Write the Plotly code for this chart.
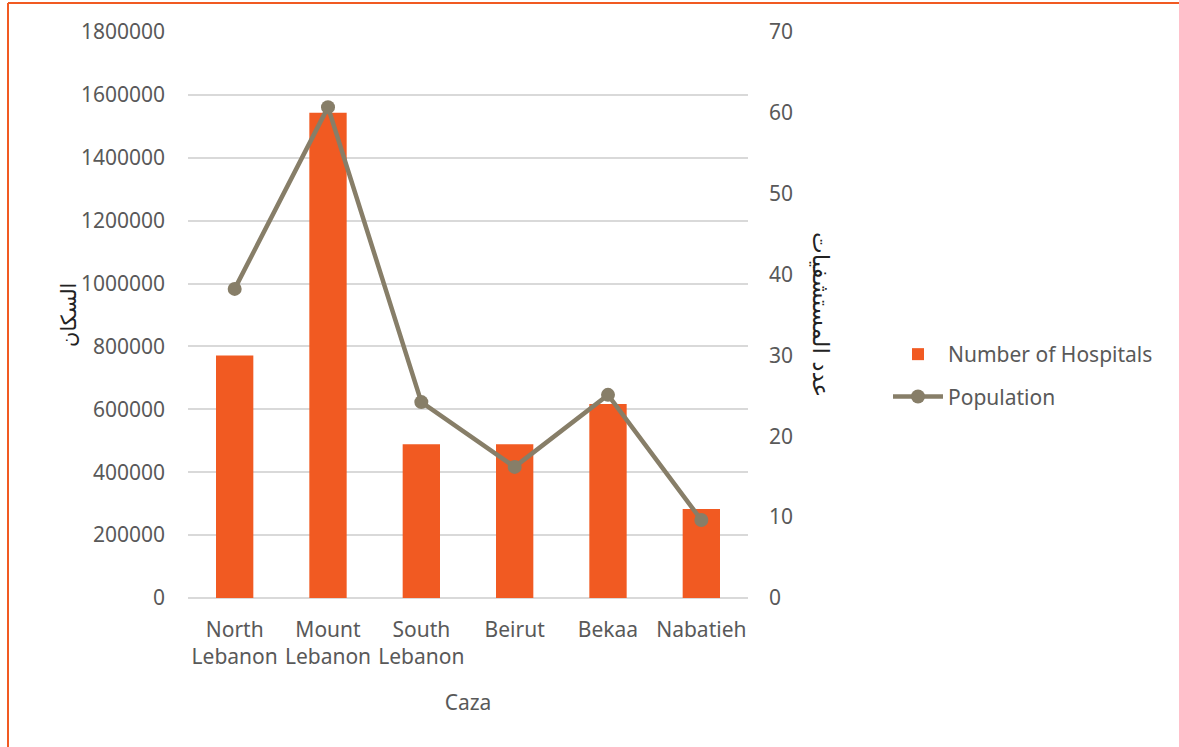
import plotly.graph_objects as go

categories = ["North<br>Lebanon", "Mount<br>Lebanon", "South<br>Lebanon", "Beirut", "Bekaa", "Nabatieh"]
hospitals = [30, 60, 19, 19, 24, 11]
population = [983000, 1561000, 623000, 417000, 646000, 248000]
left_ticks = [0, 200000, 400000, 600000, 800000, 1000000, 1200000, 1400000, 1600000, 1800000]
right_ticks = [0, 10, 20, 30, 40, 50, 60, 70]

W, H = 1179, 747
L, R, T, B = 188, 748, 32, 598
FONT = "Noto Sans, DejaVu Sans, sans-serif"
GRAY = "#595959"
ORANGE = "#F15A22"
LINEC = "#877E68"
FS = 21

def px(x):
    return (x - L) / (R - L)

def py(y):
    return (B - y) / (B - T)

fig = go.Figure()
fig.add_trace(go.Bar(
    x=categories, y=hospitals, name="Number of Hospitals", yaxis="y",
    marker=dict(color=ORANGE, line=dict(width=0)), legendgroup="a",
))
fig.add_trace(go.Scatter(
    x=categories, y=population, name="Population", yaxis="y2",
    mode="lines+markers", line=dict(color=LINEC, width=4.5),
    marker=dict(color=LINEC, size=14), legendgroup="b",
))

fig.update_layout(
    width=W, height=H,
    margin=dict(l=L, r=W - R, t=T, b=H - B),
    paper_bgcolor="white", plot_bgcolor="white",
    font=dict(family=FONT, size=FS, color=GRAY),
    bargap=0.6,
    showlegend=True,
    legend=dict(x=px(888), y=py(334), xanchor="left", yanchor="top",
                font=dict(size=FS, color=GRAY), tracegroupgap=12,
                itemwidth=50, bgcolor="rgba(0,0,0,0)"),
    xaxis=dict(showgrid=False, showline=False, ticks="", tickfont=dict(size=FS, color=GRAY),
               ticklabelstandoff=17,
               title=dict(text="Caza", font=dict(size=FS, color=GRAY), standoff=26)),
    yaxis=dict(range=[0, 70], tickvals=right_ticks, side="right",
               showgrid=False, zeroline=False, showline=False, ticks="",
               ticklabelstandoff=20, tickfont=dict(size=FS, color=GRAY)),
    yaxis2=dict(range=[0, 1800000], tickvals=left_ticks, ticktext=[str(v) for v in left_ticks],
                overlaying="y", side="left",
                showgrid=True, gridcolor="#D9D9D9", gridwidth=1.5, zeroline=True,
                zerolinecolor="#D9D9D9", zerolinewidth=1.5, showline=False, ticks="",
                ticklabelstandoff=22, tickfont=dict(size=FS, color=GRAY)),
    annotations=[
        dict(text="السكان", x=px(55), y=py(315), xref="paper", yref="paper",
             showarrow=False, textangle=-90, font=dict(family="DejaVu Sans", size=21, color="#222222")),
        dict(text="عدد المستشفيات", x=px(836), y=py(314), xref="paper", yref="paper",
             showarrow=False, textangle=90, font=dict(family="DejaVu Sans", size=23, color="#222222")),
    ],
    shapes=[
        dict(type="line", xref="paper", yref="paper", x0=px(8), x1=px(1185), y0=py(3), y1=py(3),
             line=dict(color=ORANGE, width=2)),
        dict(type="line", xref="paper", yref="paper", x0=px(8), x1=px(8), y0=py(3), y1=py(760),
             line=dict(color=ORANGE, width=2)),
    ],
)

fig.write_html("out.html")
